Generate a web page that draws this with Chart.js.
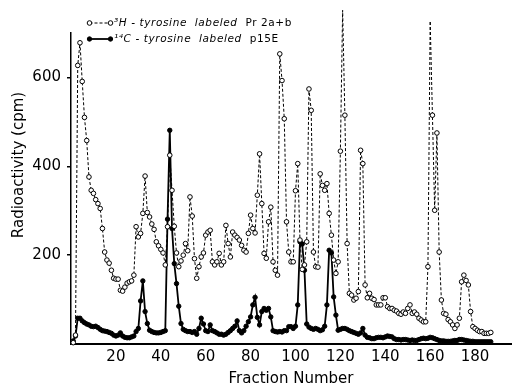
<!DOCTYPE html>
<html><head><meta charset="utf-8">
<script src="https://cdn.jsdelivr.net/npm/chart.js@4"></script>
<style>html,body{margin:0;padding:0;background:#fff;}canvas{display:block}</style>
</head><body>
<canvas id="c" width="516" height="391"></canvas>
<script>
// Fraction numbers (categories)
const fractions = [
  1,2,3,4,5,6,7,8,9,10,11,12,13,14,15,16,17,18,19,20,
  21,22,23,24,25,26,27,28,29,30,31,32,33,34,35,36,37,38,39,40,
  41,42,43,44,45,46,47,48,49,50,51,52,53,54,55,56,57,58,59,60,
  61,62,63,64,65,66,67,68,69,70,71,72,73,74,75,76,77,78,79,80,
  81,82,83,84,85,86,87,88,89,90,91,92,93,94,95,96,97,98,99,100,
  101,102,103,104,105,106,107,108,109,110,111,112,113,114,115,116,117,118,119,120,
  121,122,123,124,125,126,127,128,129,130,131,132,133,134,135,136,137,138,139,140,
  141,142,143,144,145,146,147,148,149,150,151,152,153,154,155,156,157,158,159,160,
  161,162,163,164,165,166,167,168,169,170,171,172,173,174,175,176,177,178,179,180,
  181,182,183,184,185,186,187
];
// 3H-tyrosine labeled Pr 2a+b (cpm)
const h3Values = [
  3,20,627,678,591,510,458,376,346,339,325,316,305,260,207,189,182,166,148,146,
  146,121,119,128,137,140,142,155,264,241,249,294,378,296,286,270,258,230,221,213,
  205,178,264,425,346,265,205,174,187,200,226,210,331,288,192,148,174,196,205,245,
  252,256,185,178,185,204,178,185,267,226,196,252,245,240,234,222,211,207,249,290,
  260,250,335,428,316,204,193,275,308,185,166,155,653,593,507,275,207,185,185,345,
  406,234,168,178,230,574,526,207,174,173,383,357,346,361,294,245,189,159,185,434,
  751,515,226,114,110,99,103,118,436,406,133,104,114,103,100,88,88,88,104,104,
  84,80,80,76,74,69,67,72,69,80,88,69,72,67,58,54,50,50,174,727,
  515,301,475,207,99,69,67,55,50,43,35,43,58,140,155,143,133,73,39,35,
  31,28,28,24,24,24,26
];
// 14C-tyrosine labeled p15E (cpm)
const c14Values = [
  7,18,58,58,52,48,45,43,40,39,40,37,33,30,29,28,26,24,20,18,
  20,25,18,15,14,14,16,18,28,35,97,142,73,46,31,28,26,25,25,26,
  28,30,281,481,260,181,136,85,46,33,30,28,28,26,28,22,35,58,45,30,
  28,43,30,28,25,22,22,20,22,26,30,35,40,52,30,25,30,40,50,61,
  88,105,60,43,73,80,76,80,61,30,28,27,28,27,30,30,39,39,35,40,
  88,230,225,166,45,38,35,33,35,33,30,32,40,88,211,205,106,65,31,33,
  35,35,33,30,28,26,24,22,25,35,20,15,14,12,12,14,15,15,14,16,
  18,17,16,12,10,10,9,10,10,9,8,9,8,8,10,12,13,12,13,15,
  14,12,10,8,7,7,6,6,6,7,8,8,10,10,9,8,7,6,6,5,
  5,5,5,5,5,5,5
];
const xTickValues = [20,40,60,80,100,120,140,160,180];
const yTickValues = [200,400,600];
const seriesLabels = ['³H-tyrosine labeled Pr 2a+b', '¹⁴C-tyrosine labeled p15E'];
const legendItalic = ['³H - tyrosine  labeled', '¹⁴C - tyrosine  labeled'];
const legendPlain = ['Pr 2a+b', 'p15E'];
const xTitle = 'Fraction Number';
const yTitle = 'Radioactivity (cpm)';

const FONT = '"DejaVu Sans", sans-serif';

const annotate = {
  id: 'annotate',
  afterDraw(chart) {
    const ctx = chart.ctx;
    ctx.save();
    ctx.fillStyle = '#000';
    ctx.font = '15px ' + FONT;
    ctx.translate(19, 165);
    ctx.rotate(-Math.PI / 2);
    ctx.textAlign = 'center';
    ctx.textBaseline = 'middle';
    ctx.fillText(yTitle, 0, 0);
    ctx.restore();

    chart.data.datasets.forEach((ds, i) => {
      const y = 23 + i * 16;
      const x1 = 89.5, x2 = 110.5;
      ctx.save();
      ctx.strokeStyle = '#000';
      ctx.lineWidth = ds.borderWidth;
      ctx.setLineDash(ds.borderDash || []);
      ctx.beginPath(); ctx.moveTo(x1, y); ctx.lineTo(x2, y); ctx.stroke();
      ctx.setLineDash([]);
      ctx.lineWidth = 1;
      [x1, x2].forEach(x => {
        ctx.beginPath();
        ctx.arc(x, y, ds.pointRadius, 0, Math.PI * 2);
        ctx.fillStyle = ds.pointBackgroundColor;
        ctx.fill();
        ctx.stroke();
      });
      ctx.fillStyle = '#000';
      ctx.textBaseline = 'middle';
      ctx.textAlign = 'left';
      ctx.font = 'italic 10.5px ' + FONT;
      ctx.letterSpacing = '0.6px';
      const tx = 114;
      ctx.fillText(legendItalic[i], tx, y);
      const w = ctx.measureText(legendItalic[i] + '  ').width;
      ctx.font = '10.5px ' + FONT;
      ctx.fillText(legendPlain[i], tx + w, y);
      ctx.restore();
    });
  }
};

new Chart(document.getElementById('c'), {
  type: 'line',
  data: {
    datasets: [
      {
        label: seriesLabels[0],
        data: fractions.map((f, i) => ({ x: f, y: h3Values[i] })),
        borderColor: '#000',
        borderWidth: 1,
        borderDash: [3, 2],
        pointRadius: 2.3,
        pointBorderWidth: 1,
        pointBackgroundColor: '#fff',
        pointBorderColor: '#000',
        tension: 0,
        clip: false
      },
      {
        label: seriesLabels[1],
        data: fractions.map((f, i) => ({ x: f, y: c14Values[i] })),
        borderColor: '#000',
        borderWidth: 1.8,
        pointRadius: 2.2,
        pointBorderWidth: 1,
        pointBackgroundColor: '#000',
        pointBorderColor: '#000',
        tension: 0,
        clip: false
      }
    ]
  },
  options: {
    responsive: false,
    animation: false,
    devicePixelRatio: 1,
    layout: { padding: { top: 33, right: 3, left: 0, bottom: 0 } },
    plugins: { legend: { display: false }, tooltip: { enabled: false } },
    scales: {
      x: {
        type: 'linear',
        min: 0,
        max: 196,
        afterFit: s => { s.height = 47; },
        afterBuildTicks: s => { s.ticks = xTickValues.map(v => ({ value: v })); },
        grid: { display: false, drawTicks: false },
        border: { display: true, color: '#000', width: 2 },
        ticks: { color: '#000', font: { family: FONT, size: 15 }, padding: 4, maxRotation: 0, autoSkip: false },
        title: { display: true, text: xTitle, color: '#000', font: { family: FONT, size: 15 }, padding: { top: 0, bottom: 3 } }
      },
      y: {
        type: 'linear',
        min: 0,
        max: 700,
        afterFit: s => { s.width = 71; },
        afterBuildTicks: s => { s.ticks = yTickValues.map(v => ({ value: v })); },
        grid: { display: true, drawOnChartArea: false, drawTicks: true, tickLength: 4, color: '#000', lineWidth: 1.5 },
        border: { display: true, color: '#000', width: 1.5 },
        ticks: { color: '#000', font: { family: FONT, size: 15 }, padding: 6 }
      }
    }
  },
  plugins: [annotate]
});
</script>
</body></html>
